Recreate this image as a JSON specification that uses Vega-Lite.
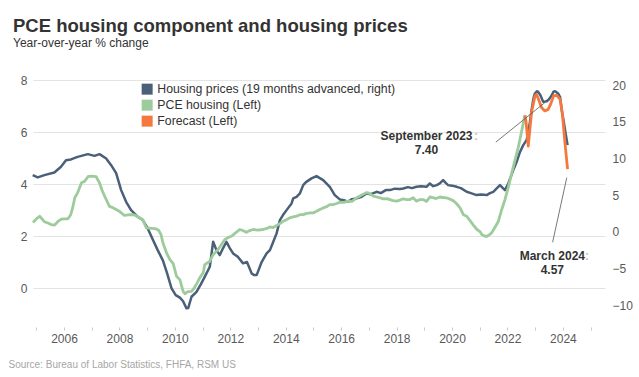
{
  "$schema": "https://vega.github.io/schema/vega-lite/v6.json",
  "width": 572,
  "height": 260,
  "autosize": {"type": "none"},
  "padding": {"left": 33, "top": 67, "right": 34, "bottom": 50},
  "config": {
    "view": {"stroke": null},
    "font": "Liberation Sans",
    "axis": {"labelFont": "Liberation Sans", "labelFontSize": 12, "labelColor": "#595959"}
  },
  "title": {
    "text": "PCE housing component and housing prices",
    "subtitle": "Year-over-year % change",
    "anchor": "start",
    "frame": "group",
    "dx": -20,
    "offset": 18,
    "fontSize": 18.5,
    "fontWeight": "bold",
    "color": "#333333",
    "subtitleFontSize": 12,
    "subtitleColor": "#333333",
    "subtitlePadding": 3
  },
  "datasets": {
    "house": [
      {"t":2004.87,"v":7.74},{"t":2005.05,"v":7.42},{"t":2005.29,"v":7.74},{"t":2005.65,"v":8.10},{"t":2005.89,"v":8.87},{"t":2006.07,"v":9.78},{"t":2006.25,"v":9.88},{"t":2006.49,"v":10.23},{"t":2006.86,"v":10.60},{"t":2007.10,"v":10.37},{"t":2007.28,"v":10.60},{"t":2007.52,"v":10.01},{"t":2007.70,"v":9.10},{"t":2007.88,"v":8.01},{"t":2008.06,"v":5.69},{"t":2008.24,"v":4.09},{"t":2008.42,"v":2.96},{"t":2008.66,"v":2.05},{"t":2008.84,"v":1.60},{"t":2009.02,"v":0.46},{"t":2009.21,"v":-1.13},{"t":2009.38,"v":-2.50},{"t":2009.57,"v":-3.93},{"t":2009.72,"v":-5.68},{"t":2009.88,"v":-7.72},{"t":2010.03,"v":-8.64},{"t":2010.18,"v":-8.98},{"t":2010.29,"v":-9.45},{"t":2010.42,"v":-10.45},{"t":2010.48,"v":-10.41},{"t":2010.60,"v":-8.87},{"t":2010.78,"v":-8.19},{"t":2010.94,"v":-7.14},{"t":2011.14,"v":-5.68},{"t":2011.26,"v":-4.77},{"t":2011.38,"v":-1.36},{"t":2011.50,"v":-2.50},{"t":2011.62,"v":-3.18},{"t":2011.74,"v":-2.22},{"t":2011.86,"v":-1.36},{"t":2011.98,"v":-2.22},{"t":2012.10,"v":-2.95},{"t":2012.27,"v":-3.41},{"t":2012.46,"v":-4.31},{"t":2012.60,"v":-4.13},{"t":2012.77,"v":-5.68},{"t":2012.85,"v":-5.91},{"t":2012.95,"v":-5.91},{"t":2013.13,"v":-4.13},{"t":2013.31,"v":-2.95},{"t":2013.43,"v":-2.50},{"t":2013.55,"v":-1.36},{"t":2013.67,"v":-0.22},{"t":2013.79,"v":1.60},{"t":2013.90,"v":2.28},{"t":2014.03,"v":2.96},{"t":2014.21,"v":3.87},{"t":2014.27,"v":4.56},{"t":2014.39,"v":4.77},{"t":2014.51,"v":5.24},{"t":2014.63,"v":6.37},{"t":2014.73,"v":6.78},{"t":2014.93,"v":7.29},{"t":2015.11,"v":7.60},{"t":2015.23,"v":7.33},{"t":2015.35,"v":7.05},{"t":2015.59,"v":6.14},{"t":2015.77,"v":5.01},{"t":2015.95,"v":4.42},{"t":2016.10,"v":4.32},{"t":2016.25,"v":4.09},{"t":2016.39,"v":4.46},{"t":2016.56,"v":4.56},{"t":2016.71,"v":4.73},{"t":2016.92,"v":5.24},{"t":2017.07,"v":5.14},{"t":2017.28,"v":5.46},{"t":2017.43,"v":5.28},{"t":2017.61,"v":5.69},{"t":2017.76,"v":5.69},{"t":2017.94,"v":5.89},{"t":2018.12,"v":5.83},{"t":2018.24,"v":5.92},{"t":2018.41,"v":6.10},{"t":2018.55,"v":5.96},{"t":2018.72,"v":6.14},{"t":2018.88,"v":6.23},{"t":2019.08,"v":6.14},{"t":2019.20,"v":6.60},{"t":2019.32,"v":6.23},{"t":2019.45,"v":6.37},{"t":2019.56,"v":6.60},{"t":2019.68,"v":7.05},{"t":2019.78,"v":6.64},{"t":2019.86,"v":6.37},{"t":2020.00,"v":6.30},{"t":2020.17,"v":6.14},{"t":2020.32,"v":5.96},{"t":2020.53,"v":5.46},{"t":2020.68,"v":5.28},{"t":2020.89,"v":5.01},{"t":2021.04,"v":5.08},{"t":2021.25,"v":5.01},{"t":2021.37,"v":5.28},{"t":2021.49,"v":5.46},{"t":2021.62,"v":5.96},{"t":2021.73,"v":6.37},{"t":2021.80,"v":6.10},{"t":2021.91,"v":5.69},{"t":2022.03,"v":6.60},{"t":2022.21,"v":8.42},{"t":2022.33,"v":9.51},{"t":2022.45,"v":10.87},{"t":2022.57,"v":11.83},{"t":2022.69,"v":12.51},{"t":2022.75,"v":13.60},{"t":2022.81,"v":14.97},{"t":2022.87,"v":16.60},{"t":2022.94,"v":18.24},{"t":2022.99,"v":18.88},{"t":2023.07,"v":19.20},{"t":2023.11,"v":19.10},{"t":2023.19,"v":18.65},{"t":2023.29,"v":17.74},{"t":2023.42,"v":17.83},{"t":2023.50,"v":18.10},{"t":2023.60,"v":18.65},{"t":2023.66,"v":19.13},{"t":2023.72,"v":19.20},{"t":2023.83,"v":18.88},{"t":2023.90,"v":18.38},{"t":2023.96,"v":16.60},{"t":2024.01,"v":15.51},{"t":2024.08,"v":13.87},{"t":2024.17,"v":11.83}
    ],
    "pce": [
      {"t":2004.88,"v":2.52},{"t":2005.01,"v":2.67},{"t":2005.12,"v":2.76},{"t":2005.29,"v":2.55},{"t":2005.42,"v":2.50},{"t":2005.53,"v":2.44},{"t":2005.66,"v":2.42},{"t":2005.77,"v":2.55},{"t":2005.90,"v":2.65},{"t":2006.03,"v":2.66},{"t":2006.14,"v":2.66},{"t":2006.24,"v":2.82},{"t":2006.31,"v":3.08},{"t":2006.39,"v":3.48},{"t":2006.49,"v":3.66},{"t":2006.63,"v":4.05},{"t":2006.74,"v":4.10},{"t":2006.87,"v":4.29},{"t":2007.00,"v":4.30},{"t":2007.16,"v":4.28},{"t":2007.29,"v":4.02},{"t":2007.36,"v":3.79},{"t":2007.47,"v":3.52},{"t":2007.64,"v":3.14},{"t":2007.76,"v":3.09},{"t":2007.88,"v":3.02},{"t":2008.01,"v":2.94},{"t":2008.18,"v":2.79},{"t":2008.37,"v":2.82},{"t":2008.54,"v":2.81},{"t":2008.73,"v":2.70},{"t":2008.84,"v":2.63},{"t":2008.97,"v":2.31},{"t":2009.09,"v":2.30},{"t":2009.33,"v":2.27},{"t":2009.42,"v":2.21},{"t":2009.50,"v":2.05},{"t":2009.57,"v":1.73},{"t":2009.71,"v":1.32},{"t":2009.82,"v":1.09},{"t":2009.94,"v":0.94},{"t":2010.06,"v":0.45},{"t":2010.18,"v":0.32},{"t":2010.30,"v":-0.14},{"t":2010.36,"v":-0.22},{"t":2010.47,"v":-0.14},{"t":2010.60,"v":-0.13},{"t":2010.68,"v":-0.03},{"t":2010.78,"v":0.15},{"t":2010.90,"v":0.40},{"t":2011.02,"v":0.58},{"t":2011.08,"v":0.90},{"t":2011.26,"v":1.03},{"t":2011.38,"v":1.28},{"t":2011.56,"v":1.48},{"t":2011.68,"v":1.67},{"t":2011.80,"v":1.86},{"t":2011.91,"v":1.94},{"t":2012.04,"v":1.99},{"t":2012.20,"v":2.13},{"t":2012.34,"v":2.25},{"t":2012.45,"v":2.21},{"t":2012.58,"v":2.14},{"t":2012.70,"v":2.21},{"t":2012.82,"v":2.25},{"t":2012.99,"v":2.23},{"t":2013.18,"v":2.25},{"t":2013.32,"v":2.29},{"t":2013.43,"v":2.35},{"t":2013.53,"v":2.32},{"t":2013.67,"v":2.40},{"t":2013.79,"v":2.48},{"t":2013.91,"v":2.57},{"t":2014.03,"v":2.63},{"t":2014.15,"v":2.70},{"t":2014.27,"v":2.74},{"t":2014.39,"v":2.76},{"t":2014.51,"v":2.82},{"t":2014.63,"v":2.82},{"t":2014.73,"v":2.86},{"t":2014.87,"v":2.89},{"t":2014.99,"v":2.89},{"t":2015.11,"v":2.95},{"t":2015.23,"v":3.02},{"t":2015.35,"v":3.08},{"t":2015.48,"v":3.13},{"t":2015.59,"v":3.21},{"t":2015.71,"v":3.21},{"t":2015.84,"v":3.25},{"t":2015.95,"v":3.30},{"t":2016.10,"v":3.29},{"t":2016.25,"v":3.34},{"t":2016.39,"v":3.33},{"t":2016.56,"v":3.47},{"t":2016.68,"v":3.54},{"t":2016.78,"v":3.60},{"t":2016.92,"v":3.67},{"t":2017.00,"v":3.65},{"t":2017.07,"v":3.60},{"t":2017.16,"v":3.53},{"t":2017.29,"v":3.50},{"t":2017.40,"v":3.47},{"t":2017.52,"v":3.43},{"t":2017.65,"v":3.44},{"t":2017.76,"v":3.40},{"t":2017.87,"v":3.36},{"t":2018.00,"v":3.34},{"t":2018.12,"v":3.38},{"t":2018.24,"v":3.43},{"t":2018.37,"v":3.40},{"t":2018.48,"v":3.40},{"t":2018.60,"v":3.47},{"t":2018.72,"v":3.34},{"t":2018.84,"v":3.40},{"t":2018.96,"v":3.40},{"t":2019.08,"v":3.33},{"t":2019.20,"v":3.50},{"t":2019.31,"v":3.48},{"t":2019.42,"v":3.44},{"t":2019.56,"v":3.50},{"t":2019.67,"v":3.48},{"t":2019.80,"v":3.47},{"t":2019.92,"v":3.42},{"t":2020.04,"v":3.36},{"t":2020.16,"v":3.25},{"t":2020.29,"v":3.08},{"t":2020.41,"v":2.82},{"t":2020.53,"v":2.76},{"t":2020.65,"v":2.59},{"t":2020.77,"v":2.42},{"t":2020.90,"v":2.25},{"t":2021.01,"v":2.17},{"t":2021.08,"v":2.05},{"t":2021.19,"v":1.99},{"t":2021.26,"v":1.99},{"t":2021.35,"v":2.05},{"t":2021.43,"v":2.12},{"t":2021.54,"v":2.32},{"t":2021.67,"v":2.56},{"t":2021.78,"v":2.97},{"t":2021.91,"v":3.40},{"t":2022.02,"v":3.83},{"t":2022.15,"v":4.40},{"t":2022.27,"v":4.91},{"t":2022.39,"v":5.41},{"t":2022.51,"v":6.02},{"t":2022.63,"v":6.64}
    ],
    "fcst": [
      {"t":2022.63,"v":6.64},{"t":2022.67,"v":6.40},{"t":2022.71,"v":5.95},{"t":2022.75,"v":5.46},{"t":2022.81,"v":6.10},{"t":2022.87,"v":6.76},{"t":2022.93,"v":7.06},{"t":2022.99,"v":7.37},{"t":2023.05,"v":7.45},{"t":2023.12,"v":7.26},{"t":2023.23,"v":6.94},{"t":2023.35,"v":6.81},{"t":2023.47,"v":6.87},{"t":2023.57,"v":7.10},{"t":2023.67,"v":7.40},{"t":2023.78,"v":7.41},{"t":2023.90,"v":7.26},{"t":2023.97,"v":6.79},{"t":2024.01,"v":6.36},{"t":2024.09,"v":5.41},{"t":2024.17,"v":4.57}
    ],
    "notes": [
      {"t":2019.08,"v":5.68,"label":"September 2023"},
      {"t":2019.08,"v":5.16,"label":"7.40"},
      {"t":2023.62,"v":1.09,"label":"March 2024"},
      {"t":2023.62,"v":0.55,"label":"4.57"}
    ],
    "colons": [
      {"t":2020.79,"v":5.68,"label":":"},
      {"t":2024.80,"v":1.09,"label":":"}
    ],
    "leaders": [
      {"t":2021.58,"v":5.61,"t2":2023.35,"v2":7.13},
      {"t":2023.63,"v":1.76,"t2":2024.14,"v2":4.24}
    ]
  },
  "encoding": {
    "x": {
      "field": "t", "type": "quantitative",
      "scale": {"domain": [2004.88, 2025.52], "nice": false, "zero": false},
      "axis": {
        "values": [2005,2006,2007,2008,2009,2010,2011,2012,2013,2014,2015,2016,2017,2018,2019,2020,2021,2022,2023,2024,2025],
        "format": "d",
        "labelExpr": "datum.value % 2 == 0 ? datum.label : ''",
        "labelOverlap": false,
        "labelFlush": false,
        "grid": false, "domain": false,
        "tickSize": 3, "tickColor": "#c8c8c8", "tickWidth": 1,
        "labelPadding": 3, "labelFontSize": 12, "labelColor": "#595959",
        "title": "Source: Bureau of Labor Statistics, FHFA, RSM US",
        "titleAnchor": "start", "titleAlign": "left", "titleBaseline": "alphabetic",
        "titleX": -25, "titleY": 40,
        "titleFontSize": 10, "titleFontWeight": "normal", "titleColor": "#a6a6a6"
      }
    }
  },
  "layer": [
    {
      "data": {"name": "house"},
      "mark": {"type": "line", "strokeWidth": 2.5, "strokeJoin": "round"},
      "encoding": {
        "y": {
          "field": "v", "type": "quantitative",
          "scale": {"domain": [-13, 22.5], "nice": false, "zero": false},
          "axis": {
            "orient": "right", "values": [-10,-5,0,5,10,15,20],
            "grid": false, "ticks": false, "domain": false, "labelOverlap": false,
            "labelPadding": 7, "labelFontSize": 12, "labelColor": "#595959", "title": null
          }
        },
        "color": {
          "datum": "Housing prices (19 months advanced, right)",
          "type": "nominal",
          "scale": {
            "domain": ["Housing prices (19 months advanced, right)", "PCE housing (Left)", "Forecast (Left)"],
            "range": ["#4a6079", "#9dcb9c", "#f4793e"]
          },
          "legend": {
            "orient": "none", "legendX": 108, "legendY": 16,
            "title": null, "padding": 0,
            "symbolType": "square", "symbolSize": 121, "symbolStrokeWidth": 0,
            "labelFontSize": 12.3, "labelColor": "#333333", "labelLimit": 400,
            "labelOffset": 4, "rowPadding": 3,
            "encode": {"symbols": {"update": {"fill": {"scale": "color", "field": "value"}, "opacity": {"value": 1}}}}
          }
        }
      }
    },
    {
      "encoding": {
        "y": {
          "field": "v", "type": "quantitative",
          "scale": {"domain": [-1.5, 8.5], "nice": false, "zero": false},
          "axis": {
            "orient": "left", "values": [0,2,4,6,8],
            "grid": true, "gridColor": "#e3e3e3", "gridWidth": 1,
            "ticks": false, "domain": false, "labelOverlap": false,
            "labelPadding": 6, "labelFontSize": 12, "labelColor": "#595959", "title": null
          }
        }
      },
      "layer": [
        {
          "data": {"name": "pce"},
          "mark": {"type": "line", "strokeWidth": 2.8, "strokeJoin": "round"},
          "encoding": {"color": {"datum": "PCE housing (Left)", "type": "nominal"}}
        },
        {
          "data": {"name": "fcst"},
          "mark": {"type": "line", "strokeWidth": 2.8, "strokeJoin": "round"},
          "encoding": {"color": {"datum": "Forecast (Left)", "type": "nominal"}}
        },
        {
          "data": {"name": "leaders"},
          "mark": {"type": "rule", "color": "#555555", "strokeWidth": 0.8},
          "encoding": {"x2": {"field": "t2"}, "y2": {"field": "v2"}}
        },
        {
          "data": {"name": "notes"},
          "mark": {"type": "text", "fontSize": 12, "fontWeight": "bold", "color": "#333333", "align": "center", "baseline": "alphabetic"},
          "encoding": {"text": {"field": "label", "type": "nominal"}}
        },
        {
          "data": {"name": "colons"},
          "mark": {"type": "text", "fontSize": 12, "fontWeight": "bold", "color": "#c0c0c0", "align": "left", "baseline": "alphabetic"},
          "encoding": {"text": {"field": "label", "type": "nominal"}}
        }
      ]
    }
  ],
  "resolve": {"scale": {"y": "independent"}}
}
